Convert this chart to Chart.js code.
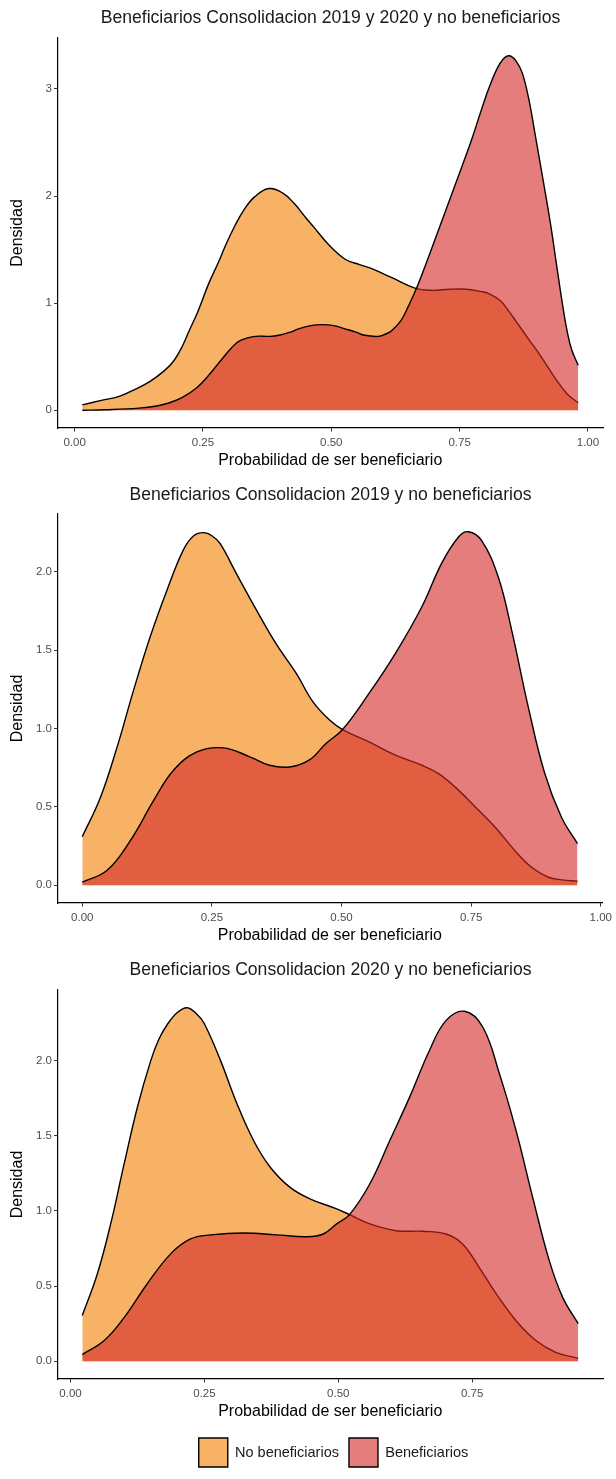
<!DOCTYPE html>
<html><head><meta charset="utf-8">
<script src="https://cdn.jsdelivr.net/npm/chart.js@4.4.1/dist/chart.umd.min.js"></script>
<style>
html,body{margin:0;padding:0;background:#fff;width:616px;height:1479px;overflow:hidden}
canvas{position:absolute;left:0}
</style></head><body>
<canvas id="c1" width="616" height="480" style="top:0;width:616px;height:480px"></canvas>
<canvas id="c2" width="616" height="475" style="top:480px;width:616px;height:475px"></canvas>
<canvas id="c3" width="616" height="522" style="top:955px;width:616px;height:522px"></canvas>
<script>
// ---- categories / labels ----
const seriesNames = ['No beneficiarios', 'Beneficiarios'];
const panelTitles = [
  'Beneficiarios Consolidacion 2019 y 2020 y no beneficiarios',
  'Beneficiarios Consolidacion 2019 y no beneficiarios',
  'Beneficiarios Consolidacion 2020 y no beneficiarios'
];
const xAxisTitle = 'Probabilidad de ser beneficiario';
const yAxisTitle = 'Densidad';

// ---- tick values and labels ----
const xTicksFull = [0, 0.25, 0.5, 0.75, 1];
const xTickLabelsFull = ['0.00', '0.25', '0.50', '0.75', '1.00'];
const xTicksShort = [0, 0.25, 0.5, 0.75];
const xTickLabelsShort = ['0.00', '0.25', '0.50', '0.75'];
const p1YTicks = [0, 1, 2, 3];
const p1YTickLabels = ['0', '1', '2', '3'];
const p23YTicks = [0, 0.5, 1, 1.5, 2];
const p23YTickLabels = ['0.0', '0.5', '1.0', '1.5', '2.0'];

// ---- panel 1: 2019 y 2020 ----
const p1NoX = [0.015,0.05,0.087,0.12,0.147,0.175,0.193,0.21,0.223,0.24,0.261,0.28,0.295,0.312,0.329,0.35,0.378,0.405,0.428,0.45,0.466,0.496,0.527,0.555,0.58,0.617,0.663,0.694,0.731,0.762,0.79,0.807,0.83,0.845,0.86,0.885,0.906,0.936,0.96,0.981];
const p1NoY = [0.05,0.09,0.13,0.2,0.27,0.37,0.46,0.6,0.74,0.92,1.18,1.38,1.55,1.72,1.865,1.99,2.07,2.03,1.93,1.8,1.71,1.54,1.41,1.36,1.32,1.24,1.14,1.12,1.13,1.13,1.11,1.09,1.02,0.93,0.83,0.66,0.52,0.30,0.15,0.07];
const p1BenX = [0.015,0.06,0.125,0.16,0.185,0.21,0.238,0.26,0.284,0.305,0.322,0.352,0.38,0.398,0.42,0.436,0.46,0.481,0.505,0.527,0.548,0.565,0.591,0.605,0.617,0.636,0.65,0.667,0.694,0.724,0.754,0.775,0.792,0.808,0.822,0.835,0.847,0.86,0.872,0.885,0.898,0.906,0.918,0.929,0.94,0.951,0.959,0.968,0.981];
const p1BenY = [0.0,0.005,0.02,0.04,0.07,0.12,0.21,0.32,0.46,0.58,0.65,0.69,0.69,0.70,0.73,0.76,0.79,0.80,0.79,0.76,0.73,0.70,0.69,0.71,0.74,0.84,0.97,1.15,1.49,1.88,2.27,2.55,2.80,3.02,3.18,3.28,3.31,3.26,3.15,2.90,2.55,2.33,2.00,1.68,1.32,0.97,0.75,0.57,0.42];

// ---- panel 2: 2019 ----
const p2NoX = [0,0.035,0.067,0.099,0.131,0.163,0.195,0.215,0.234,0.25,0.266,0.297,0.336,0.374,0.413,0.445,0.477,0.502,0.553,0.604,0.655,0.687,0.719,0.758,0.796,0.834,0.866,0.898,0.925,0.955];
const p2NoY = [0.31,0.56,0.88,1.245,1.586,1.88,2.14,2.23,2.25,2.23,2.18,1.99,1.756,1.54,1.35,1.17,1.054,0.994,0.915,0.83,0.766,0.713,0.628,0.50,0.372,0.223,0.117,0.053,0.035,0.026];
const p2BenX = [0,0.048,0.093,0.138,0.176,0.221,0.272,0.323,0.361,0.40,0.438,0.47,0.502,0.553,0.604,0.655,0.693,0.726,0.745,0.77,0.802,0.828,0.86,0.892,0.924,0.955];
const p2BenY = [0.02,0.096,0.287,0.543,0.734,0.851,0.877,0.82,0.766,0.755,0.80,0.905,0.994,1.224,1.48,1.777,2.054,2.224,2.256,2.20,1.97,1.63,1.14,0.713,0.436,0.266];

// ---- panel 3: 2020 ----
const p3NoX = [0.022,0.05,0.075,0.10,0.125,0.15,0.165,0.181,0.2,0.218,0.235,0.249,0.28,0.311,0.342,0.373,0.41,0.447,0.497,0.521,0.559,0.608,0.658,0.701,0.732,0.763,0.795,0.832,0.869,0.906,0.948];
const p3NoY = [0.304,0.58,0.913,1.31,1.69,2.0,2.14,2.24,2.32,2.35,2.31,2.25,2.0,1.71,1.466,1.29,1.156,1.08,1.013,0.975,0.913,0.868,0.864,0.846,0.78,0.625,0.448,0.27,0.138,0.06,0.02];
const p3BenX = [0.022,0.063,0.10,0.143,0.187,0.224,0.261,0.323,0.385,0.441,0.472,0.497,0.521,0.559,0.596,0.633,0.67,0.701,0.736,0.77,0.801,0.832,0.863,0.894,0.919,0.948];
const p3BenY = [0.045,0.138,0.29,0.514,0.714,0.813,0.84,0.853,0.84,0.828,0.846,0.913,0.975,1.18,1.466,1.754,2.064,2.264,2.326,2.22,1.91,1.533,1.09,0.669,0.425,0.25];

// ---- styling ----
const FONT = '"Liberation Sans", Arial, Helvetica, sans-serif';
const fillNo = 'rgba(243,127,0,0.6)';
const fillBen = 'rgba(212,38,38,0.6)';

const shiftPlugin = {
  id: 'shiftBoxes',
  afterLayout(chart, args, opts) {
    if (chart.titleBlock && opts.title) { chart.titleBlock.left += opts.title; chart.titleBlock.right += opts.title; }
    if (chart.legend && opts.legend) { chart.legend.left += opts.legend; chart.legend.right += opts.legend; }
  }
};

function pts(xs, ys) { return xs.map((x, i) => ({ x: x, y: ys[i] })); }

function makePanel(id, p) {
  const allX = p.noX.concat(p.benX);
  const xlo = Math.min(...allX), xhi = Math.max(...allX), xr = xhi - xlo;
  const yhi = Math.max(...p.noY, ...p.benY);
  return new Chart(document.getElementById(id), {
    type: 'line',
    data: {
      datasets: [
        { label: seriesNames[0], data: pts(p.noX, p.noY), order: 1,
          backgroundColor: fillNo, borderColor: '#000', borderWidth: 1.4,
          fill: 'origin', pointRadius: 0, tension: 0.4 },
        { label: seriesNames[1], data: pts(p.benX, p.benY), order: 0,
          backgroundColor: fillBen, borderColor: '#000', borderWidth: 1.4,
          fill: 'origin', pointRadius: 0, tension: 0.4 }
      ]
    },
    options: {
      responsive: false,
      animation: false,
      devicePixelRatio: 1,
      layout: { padding: { left: 0, right: 13, top: 0, bottom: 0 } },
      plugins: {
        title: { display: true, text: p.title, color: '#1a1a1a',
          font: { family: FONT, size: 17.6, weight: 'normal' },
          padding: { top: p.titlePadTop, bottom: p.titlePadBottom } },
        legend: p.legend ? {
          display: true, position: 'bottom',
          labels: { boxWidth: 29, boxHeight: 29, padding: 10, color: '#1a1a1a',
            font: { family: FONT, size: 14.5 },
            sort: (a, b) => a.datasetIndex - b.datasetIndex }
        } : { display: false },
        tooltip: { enabled: false },
        shiftBoxes: { title: 29, legend: p.legendShift || 0 }
      },
      scales: {
        x: {
          type: 'linear', position: 'bottom',
          min: xlo - 0.05 * xr, max: xhi + 0.05 * xr,
          afterFit: s => { s.height = p.xHeight; },
          afterBuildTicks: s => { s.ticks = p.xTicks.map(v => ({ value: v })); },
          grid: { display: true, drawOnChartArea: false, drawTicks: true, tickLength: 3.5, color: '#333', lineWidth: 1 },
          border: { display: true, color: '#000', width: 1.2 },
          ticks: { autoSkip: false, maxRotation: 0, padding: 4, color: '#4d4d4d',
            font: { family: FONT, size: 11.5 },
            callback: (v, i) => p.xTickLabels[i] },
          title: { display: true, text: xAxisTitle, color: '#000',
            font: { family: FONT, size: 16 }, padding: { top: 0, bottom: p.xTitlePad } }
        },
        y: {
          type: 'linear', position: 'left',
          min: -0.05 * yhi, max: 1.05 * yhi,
          afterFit: s => { s.width = 57.5; },
          afterBuildTicks: s => { s.ticks = p.yTicks.map(v => ({ value: v })); },
          grid: { display: true, drawOnChartArea: false, drawTicks: true, tickLength: 3.5, color: '#333', lineWidth: 1 },
          border: { display: true, color: '#000', width: 1.2 },
          ticks: { autoSkip: false, padding: 2, color: '#4d4d4d',
            font: { family: FONT, size: 11.5 },
            callback: (v, i) => p.yTickLabels[i] },
          title: { display: true, text: yAxisTitle, color: '#000',
            font: { family: FONT, size: 16 }, padding: { top: 8.4, bottom: 0 } }
        }
      }
    },
    plugins: [shiftPlugin]
  });
}

makePanel('c1', { title: panelTitles[0], noX: p1NoX, noY: p1NoY, benX: p1BenX, benY: p1BenY,
  xTicks: xTicksFull, xTickLabels: xTickLabelsFull, yTicks: p1YTicks, yTickLabels: p1YTickLabels,
  titlePadTop: 7.4, titlePadBottom: 9.5, xHeight: 52, xTitlePad: 9.4, legend: false });
makePanel('c2', { title: panelTitles[1], noX: p2NoX, noY: p2NoY, benX: p2BenX, benY: p2BenY,
  xTicks: xTicksFull, xTickLabels: xTickLabelsFull, yTicks: p23YTicks, yTickLabels: p23YTickLabels,
  titlePadTop: 4.4, titlePadBottom: 8.5, xHeight: 52, xTitlePad: 9.4, legend: false });
makePanel('c3', { title: panelTitles[2], noX: p3NoX, noY: p3NoY, benX: p3BenX, benY: p3BenY,
  xTicks: xTicksShort, xTickLabels: xTickLabelsShort, yTicks: p23YTicks, yTickLabels: p23YTickLabels,
  titlePadTop: 4.4, titlePadBottom: 9.5, xHeight: 49, xTitlePad: 6.4, legend: true, legendShift: 32 });
</script>
</body></html>
